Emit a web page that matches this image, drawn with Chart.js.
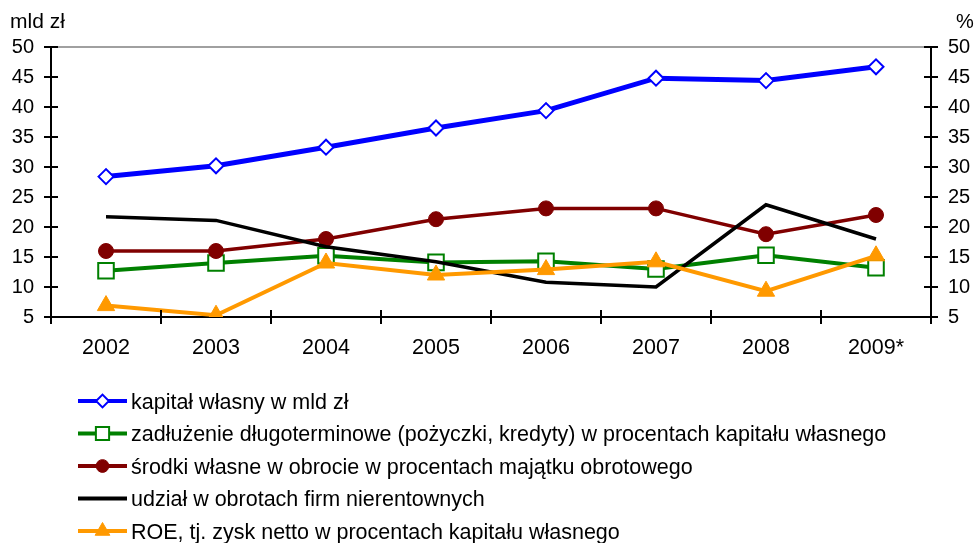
<!DOCTYPE html>
<html>
<head>
<meta charset="utf-8">
<script src="https://cdn.jsdelivr.net/npm/chart.js@4/dist/chart.umd.min.js"></script>
<style>
  html, body { margin: 0; padding: 0; background: #fff; }
  #wrap { width: 977px; height: 543px; position: relative; }
</style>
</head>
<body>
<div id="wrap"><canvas id="chart"></canvas></div>
<script>
// data
var years = ['2002', '2003', '2004', '2005', '2006', '2007', '2008', '2009*'];
var kapital = [28.4, 30.2, 33.3, 36.5, 39.4, 44.8, 44.4, 46.7];
var zadluzenie = [12.7, 14.0, 15.2, 14.1, 14.3, 13.0, 15.3, 13.2];
var srodki = [16.0, 16.0, 18.0, 21.3, 23.1, 23.1, 18.8, 22.0];
var udzial = [21.7, 21.1, 16.7, 14.2, 10.8, 10.0, 23.7, 18.0];
var roe = [6.9, 5.3, 14.0, 12.0, 12.9, 14.2, 9.3, 15.2];
var axisTicks = [5, 10, 15, 20, 25, 30, 35, 40, 45, 50];

var FONT = '"Liberation Sans", Arial, sans-serif';
var labels = [
    'kapitał własny w mld zł',
    'zadłużenie długoterminowe (pożyczki, kredyty) w procentach kapitału własnego',
    'środki własne w obrocie w procentach majątku obrotowego',
    'udział w obrotach firm nierentownych',
    'ROE, tj. zysk netto w procentach kapitału własnego'
];

// axis titles, top gray line, inner halves of tick marks, legend
var extras = {
    id: 'extras',
    afterDraw: function(chart) {
        var ctx = chart.ctx;
        var a = chart.chartArea;
        var y = chart.scales.y;
        ctx.save();
        ctx.fillStyle = '#000';
        ctx.textBaseline = 'middle';
        ctx.textAlign = 'left';
        ctx.font = '21px ' + FONT;
        ctx.fillText('mld zł', 10, 22);
        ctx.font = '20px ' + FONT;
        ctx.fillText('%', 956, 22);

        ctx.strokeStyle = '#808080';
        ctx.lineWidth = 1.5;
        ctx.beginPath();
        ctx.moveTo(a.left, a.top);
        ctx.lineTo(a.right, a.top);
        ctx.stroke();

        ctx.strokeStyle = '#000';
        ctx.lineWidth = 2;
        ctx.beginPath();
        axisTicks.forEach(function(v) {
            var py = Math.round(y.getPixelForValue(v));
            ctx.moveTo(a.left, py);
            ctx.lineTo(a.left + 7, py);
            ctx.moveTo(a.right, py);
            ctx.lineTo(a.right - 7, py);
        });
        var step = (a.right - a.left) / years.length;
        for (var i = 1; i < years.length; i++) {
            var px = Math.round(a.left + i * step);
            ctx.moveTo(px, a.bottom);
            ctx.lineTo(px, a.bottom - 7);
        }
        ctx.stroke();

        // legend, one row per series
        chart.data.datasets.forEach(function(ds, i) {
            var ly = 401 + i * 32.5;
            ctx.strokeStyle = ds.borderColor;
            ctx.lineWidth = 4;
            ctx.beginPath();
            ctx.moveTo(78, ly);
            ctx.lineTo(127, ly);
            ctx.stroke();
            if (ds.pointRadius > 0) {
                ctx.fillStyle = ds.pointBackgroundColor;
                ctx.strokeStyle = ds.pointBorderColor;
                ctx.lineWidth = ds.pointBorderWidth;
                Chart.helpers.drawPoint(ctx, {
                    pointStyle: ds.pointStyle,
                    radius: ds.pointRadius * 0.85,
                    borderWidth: ds.pointBorderWidth,
                    rotation: 0
                }, 102.5, ly);
            }
            ctx.fillStyle = '#000';
            ctx.font = '21.5px ' + FONT;
            ctx.textBaseline = 'middle';
            ctx.fillText(labels[i], 131, ly + 2);
        });
        ctx.restore();
    }
};

function yAxis(pos) {
    return {
        type: 'linear',
        position: pos,
        min: 5,
        max: 50,
        afterFit: function(scale) { scale.width = pos === 'left' ? 51 : 46; },
        ticks: { stepSize: 5, color: '#000', font: { size: 20, family: FONT }, padding: 10 },
        grid: { drawOnChartArea: false, color: '#000', lineWidth: 2, tickLength: 7 },
        border: { color: '#000', width: 2 }
    };
}

var config = {
    type: 'line',
    data: {
        labels: years,
        datasets: [{
            data: kapital,
            yAxisID: 'y',
            order: 5,
            borderColor: '#0000FF',
            borderWidth: 5,
            pointStyle: 'rectRot',
            pointRadius: 7.5,
            pointBackgroundColor: '#fff',
            pointBorderColor: '#0000FF',
            pointBorderWidth: 2
        }, {
            data: zadluzenie,
            yAxisID: 'y2',
            order: 4,
            borderColor: '#008000',
            borderWidth: 4,
            pointStyle: 'rect',
            pointRadius: 11,
            pointBackgroundColor: '#fff',
            pointBorderColor: '#008000',
            pointBorderWidth: 2
        }, {
            data: srodki,
            yAxisID: 'y2',
            order: 3,
            borderColor: '#800000',
            borderWidth: 3.5,
            pointStyle: 'circle',
            pointRadius: 7.5,
            pointBackgroundColor: '#800000',
            pointBorderColor: '#800000',
            pointBorderWidth: 1
        }, {
            data: udzial,
            yAxisID: 'y2',
            order: 2,
            borderColor: '#000000',
            borderWidth: 3.5,
            pointRadius: 0
        }, {
            data: roe,
            yAxisID: 'y2',
            order: 1,
            borderColor: '#FF9900',
            borderWidth: 4,
            pointStyle: 'triangle',
            pointRadius: 10,
            pointBackgroundColor: '#FF9900',
            pointBorderColor: '#FF9900',
            pointBorderWidth: 1
        }]
    },
    options: {
        responsive: true,
        maintainAspectRatio: false,
        animation: false,
        events: [],
        layout: { padding: { top: 47, left: 0, right: 0, bottom: 0 } },
        plugins: { legend: { display: false }, tooltip: { enabled: false } },
        scales: {
            x: {
                offset: true,
                afterFit: function(scale) { scale.height = 226; },
                ticks: { color: '#000', font: { size: 21.5, family: FONT }, padding: 11, maxRotation: 0 },
                grid: { offset: true, drawOnChartArea: false, color: '#000', lineWidth: 2, tickLength: 7 },
                border: { color: '#000', width: 2 }
            },
            y: yAxis('left'),
            y2: yAxis('right')
        }
    },
    plugins: [extras]
};

window.onload = function() {
    var ctx = document.getElementById('chart').getContext('2d');
    window.myChart = new Chart(ctx, config);
};
</script>
</body>
</html>
